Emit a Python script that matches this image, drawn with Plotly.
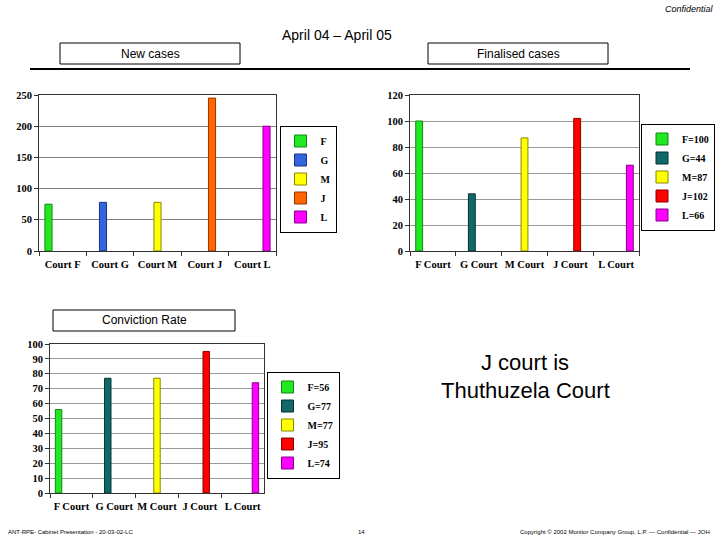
import plotly.graph_objects as go

# ---------------- data ----------------
courts = ["F", "G", "M", "J", "L"]
new_cases_labels = ["Court F", "Court G", "Court M", "Court J", "Court L"]
new_cases = [75, 78, 78, 245, 200]
finalised_labels = ["F Court", "G Court", "M Court", "J Court", "L Court"]
finalised_cases = [100, 44, 87, 102, 66]
conviction_labels = ["F Court", "G Court", "M Court", "J Court", "L Court"]
conviction_rate = [56, 77, 77, 95, 74]

colors_new = ["#22e822", "#3366dd", "#ffff00", "#ff6600", "#ff00ff"]
colors_fin = ["#22e822", "#106868", "#ffff00", "#ff0000", "#ff00ff"]
edge_new = ["#118811", "#1a3380", "#888800", "#993300", "#880088"]
edge_fin = ["#118811", "#053030", "#888800", "#880000", "#880088"]

W, H = 720, 540
SERIF = "Liberation Serif"
SANS = "Liberation Sans"

fig = go.Figure()


def px(x):
    return x / W


def py(y):
    return 1 - y / H


def add_chart(cats, values, colors, edges, xa, ya, legend, named):
    for i, c in enumerate(courts):
        yv = [values[i] if j == i else None for j in range(len(cats))]
        name = f"{c}={values[i]}" if named else c
        fig.add_trace(go.Bar(
            x=cats, y=yv, name=name, xaxis=xa, yaxis=ya, legend=legend,
            marker=dict(color=colors[i], line=dict(color=edges[i], width=1)),
        ))


add_chart(new_cases_labels, new_cases, colors_new, edge_new, "x", "y", "legend", False)
add_chart(finalised_labels, finalised_cases, colors_fin, edge_fin, "x2", "y2", "legend2", True)
add_chart(conviction_labels, conviction_rate, colors_fin, edge_fin, "x3", "y3", "legend3", True)

tickfont = dict(family=SERIF, size=10.5, color="black", weight="bold")
xcommon = dict(showline=True, linecolor="#333", linewidth=1, mirror=True,
               ticks="outside", ticklen=4, tickcolor="#333", tickson="boundaries",
               tickangle=0, tickfont=tickfont, showgrid=False, type="category",
               ticklabelstandoff=3, fixedrange=True, automargin=False)
ycommon = dict(showline=True, linecolor="#333", linewidth=1, mirror=True,
               ticks="outside", ticklen=4, tickcolor="#333", tickfont=tickfont,
               showgrid=True, gridwidth=1, zeroline=False,
               fixedrange=True, automargin=False)

legcommon = dict(bgcolor="white", bordercolor="black", borderwidth=1,
                 font=dict(family=SERIF, size=10, color="black", weight="bold"),
                 xanchor="center", yanchor="middle", itemwidth=30, tracegroupgap=0)

fig.update_layout(
    width=W, height=H, autosize=False,
    margin=dict(l=0, r=0, t=0, b=0, pad=0, autoexpand=False),
    paper_bgcolor="white", plot_bgcolor="white",
    barmode="group", bargap=0.25, bargroupgap=0,
    xaxis=dict(domain=[px(39), px(276)], anchor="y", **xcommon),
    yaxis=dict(domain=[py(251), py(95)], anchor="x", range=[0, 250], dtick=50,
               gridcolor="#808080", **ycommon),
    xaxis2=dict(domain=[px(410), px(639)], anchor="y2", **xcommon),
    yaxis2=dict(domain=[py(251), py(95)], anchor="x2", range=[0, 120], dtick=20,
                gridcolor="#999999", **ycommon),
    xaxis3=dict(domain=[px(50), px(264)], anchor="y3", **xcommon),
    yaxis3=dict(domain=[py(493), py(344)], anchor="x3", range=[0, 100], dtick=10,
                gridcolor="#999999", **ycommon),
    legend=dict(x=px(308), y=py(179), **legcommon),
    legend2=dict(x=px(678), y=py(177), **legcommon),
    legend3=dict(x=px(303), y=py(425), **legcommon),
    showlegend=True,
)

# ---------------- decorations ----------------
shapes = [
    dict(type="rect", xref="paper", yref="paper", x0=px(60), x1=px(240), y0=py(64), y1=py(43),
         line=dict(color="black", width=1)),
    dict(type="rect", xref="paper", yref="paper", x0=px(428), x1=px(608), y0=py(64), y1=py(43),
         line=dict(color="black", width=1)),
    dict(type="line", xref="paper", yref="paper", x0=px(30), x1=px(690), y0=py(69), y1=py(69),
         line=dict(color="black", width=2)),
    dict(type="rect", xref="paper", yref="paper", x0=px(53), x1=px(235), y0=py(331), y1=py(310),
         line=dict(color="black", width=1)),
]
fig.update_layout(shapes=shapes)


def text(x, y, s, size, xanchor="center", italic=False, family=SANS):
    fig.add_annotation(x=px(x), y=py(y), xref="paper", yref="paper", text=s,
                       showarrow=False, xanchor=xanchor, yanchor="middle",
                       font=dict(family=family, size=size, color="black",
                                 style="italic" if italic else "normal"))


text(716, 9, "Confidential", 9, xanchor="right", italic=True)
text(337, 35, "April 04 – April 05", 14)
text(150, 54, "New cases", 12)
text(518, 54, "Finalised cases", 12)
text(144, 320, "Conviction Rate", 12)
text(525, 362, "J court is", 22)
text(525, 390, "Thuthuzela Court", 22)
text(6, 532, "ANT-RPE- Cabinet Presentation - 20-03-02-LC", 6, xanchor="left")
text(361, 532, "14", 6)
text(712, 532, "Copyright © 2002 Monitor Company Group, L.P. — Confidential — JOH", 6, xanchor="right")

page_fix = (
    "document.body.style.margin='0';document.body.style.overflow='hidden';"
    "document.documentElement.style.overflow='hidden';"
    "var g=document.getElementById('{plot_id}');"
    "g.style.position='fixed';g.style.left='0px';g.style.top='0px';"
)

fig.write_html(
    "out.html",
    config={"displayModeBar": False, "staticPlot": True},
    post_script=page_fix,
)
